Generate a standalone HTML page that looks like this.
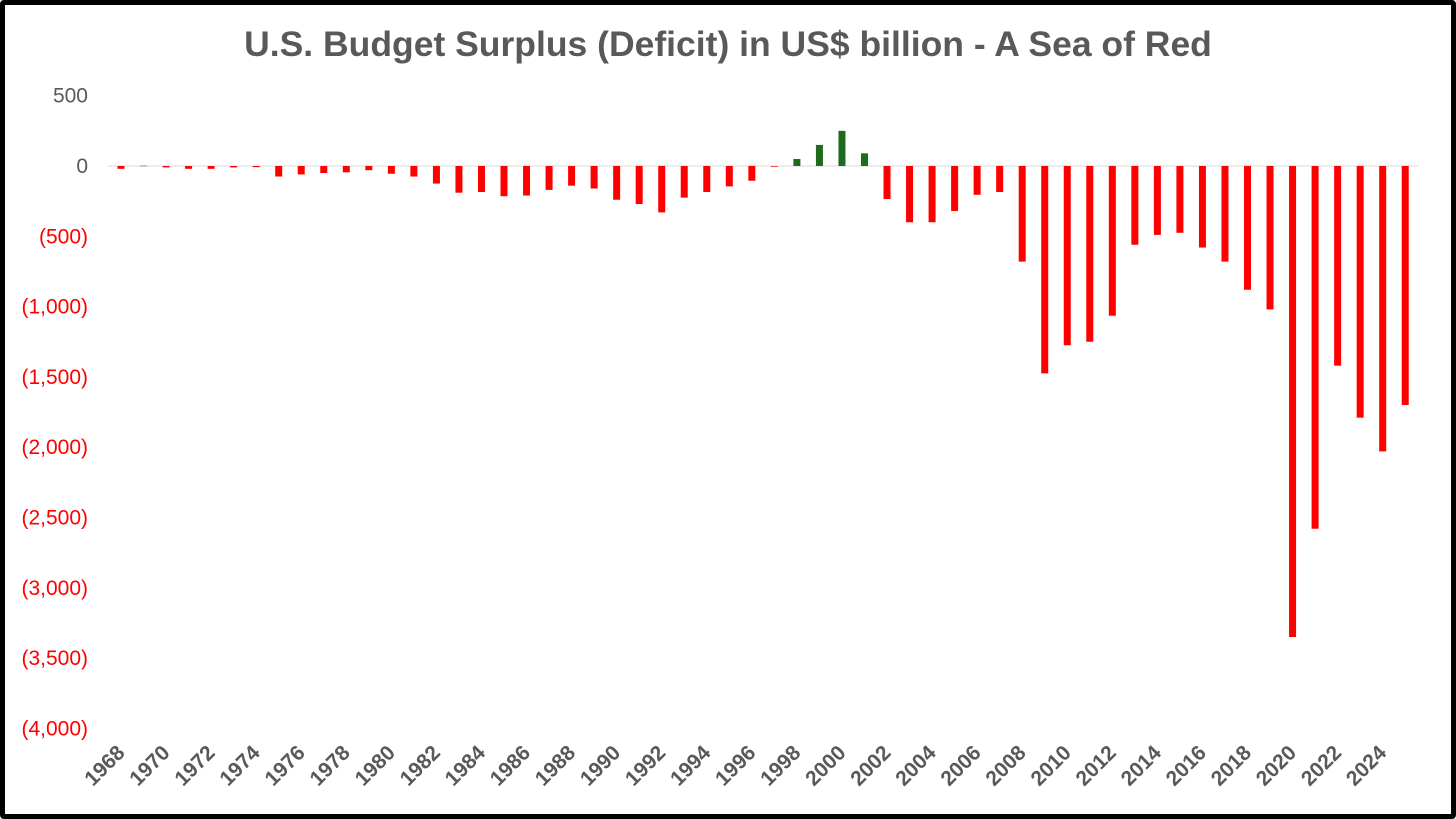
<!DOCTYPE html>
<html><head><meta charset="utf-8"><style>
html,body{margin:0;padding:0;background:#fff;}
#wrap{position:absolute;left:0;top:0;width:1456px;height:819px;box-sizing:border-box;border:5px solid #000;border-radius:4px;background:#fff;}
svg{position:absolute;left:0;top:0;}
text{font-family:"Liberation Sans",Arial,sans-serif;}
</style></head><body>
<div id="wrap"></div>
<svg id="chart" width="1456" height="819">
<text x="728" y="56" text-anchor="middle" font-size="35.5" font-weight="bold" fill="#595959">U.S. Budget Surplus (Deficit) in US$ billion - A Sea of Red</text>
</svg>
<script>
const years=[];for(let y=1968;y<=2025;y++)years.push(y);
const values=[-20,2,-10,-20,-20,-10,-8,-75,-60,-50,-45,-30,-55,-75,-125,-190,-185,-215,-210,-170,-140,-160,-240,-270,-330,-225,-185,-145,-105,-5,50,150,250,90,-235,-400,-400,-320,-205,-185,-680,-1475,-1275,-1250,-1065,-560,-490,-475,-580,-680,-880,-1020,-3350,-2580,-1420,-1790,-2030,-1700];
const ticks=[500,0,-500,-1000,-1500,-2000,-2500,-3000,-3500,-4000];
const svg=document.getElementById('chart');const NS='http://www.w3.org/2000/svg';
const yS=v=>166-v*0.1406;
const xS=i=>121+i*22.53;
function fmt(v){const s=Math.abs(v).toLocaleString('en-US');return v<0?'('+s+')':s;}
const ax=document.createElementNS(NS,'line');
ax.setAttribute('x1',108);ax.setAttribute('x2',1418);ax.setAttribute('y1',yS(0));ax.setAttribute('y2',yS(0));ax.setAttribute('stroke','#d9d9d9');ax.setAttribute('stroke-width',1);


svg.appendChild(ax);
ticks.forEach(t=>{const e=document.createElementNS(NS,'text');
e.setAttribute('x',88);e.setAttribute('y',yS(t)+7);e.setAttribute('text-anchor','end');e.setAttribute('font-size',21);
e.setAttribute('fill',t<0?'#ff0000':'#595959');e.textContent=fmt(t);


svg.appendChild(e);});
values.forEach((v,i)=>{const r=document.createElementNS(NS,'rect');
const y0=yS(Math.max(v,0)),y1=yS(Math.min(v,0));
r.setAttribute('x',xS(i)-3.5);r.setAttribute('width',7);r.setAttribute('y',y0);r.setAttribute('height',Math.max(y1-y0,0.5));
r.setAttribute('fill',v>=0?'#1e6b1e':'#ff0000');


svg.appendChild(r);});
years.forEach((y,i)=>{if(i%2)return;const e=document.createElementNS(NS,'text');
const x=xS(i)+5,yy=754;
e.setAttribute('x',x);e.setAttribute('y',yy);e.setAttribute('text-anchor','end');e.setAttribute('font-size',21);e.setAttribute('font-weight','bold');
e.setAttribute('fill','#595959');e.setAttribute('transform','rotate(-45 '+x+' '+yy+')');e.textContent=y;


svg.appendChild(e);});
</script>
</body></html>
